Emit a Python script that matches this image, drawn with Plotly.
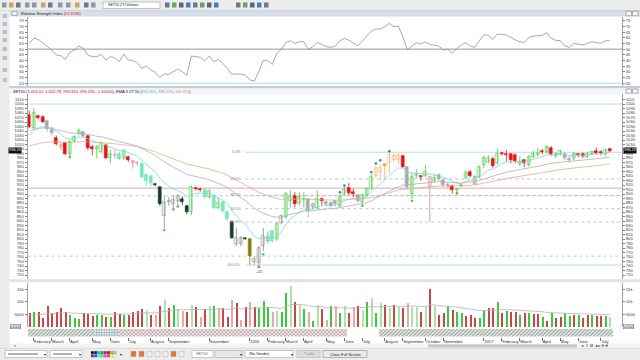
import pandas as pd
import plotly.graph_objects as go

# ---------------- data ----------------
first_week = "2015-01-26"

opens = [1076,1047,1073,1071,1063,1043,1025,1004,1013,989,
         1017,1033,1037,1029,1005,1000,993,1008,981,986,
         988,979,983,968,970,967,943,939,922,915,
         851,882,878,885,889,874,859,914,912,909,
         893,896,870,882,859,837,788,788,801,799,
         750,747,784,796,818,799,836,848,885,896,
         881,888,889,871,870,889,883,881,885,874,
         900,914,904,898,883,897,912,941,950,966,
         968,975,975,984,960,900,940,940,941,915,
         928,943,932,918,918,908,918,936,949,923,
         938,964,971,977,968,991,990,988,986,966,
         975,964,983,986,995,994,1003,985,990,990,
         976,979,988,990,983,990,996,993,988,1001.01]
highs = [1085,1091,1076,1075,1065,1050,1030,1015,1016,1020,
         1031,1046,1039,1031,1009,1009,1016,1009,998,998,
         994,1001,986,975,973,970,946,941,925,917,
         897,893,897,900,895,876,918,916,914,914,
         910,900,892,885,862,840,825,807,803,801,
         762,784,825,817,820,837,855,905,908,904,
         904,904,891,880,908,892,886,884,887,900,
         917,925,912,900,900,913,945,962,966,968,
         993,990,990,987,962,947,955,942,964,941,
         943,946,934,926,921,913,923,953,953,942,
         963,985,986,983,1001,994,998,991,990,984,
         977,986,996,1003,1000,1008,1006,994,998,994,
         984,993,991,992,993,996,1003,997,1001,1002.78]
lows = [1046,1044,1066,1058,1039,1030,1008,998,986,979,
        1014,1030,1025,998,986,979,990,977,968,979,
        975,975,971,956,962,935,918,915,917,874,
        825,874,867,874,875,855,853,908,905,889,
        890,866,866,858,840,800,784,784,798,743,
        743,739,773,790,792,796,832,845,870,870,
        874,870,848,866,866,875,872,870,872,870,
        896,898,893,880,872,893,910,935,930,934,
        945,970,965,958,910,889,935,930,938,837,
        925,930,915,914,901,898,915,934,937,920,
        935,958,968,958,965,985,972,968,968,962,
        960,961,980,984,989,990,985,980,986,975,
        970,975,982,980,980,987,988,986,984,993.31]
closes = [1050,1081,1070,1060,1044,1036,1011,1009,989,1016,
          1026,1040,1028,1003,1000,1005,1013,981,990,987,
          978,995,975,973,968,938,928,925,919,878,
          883,885,887,895,883,859,915,912,908,893,
          906,870,880,863,844,803,803,802,800,762,
          755,780,806,805,795,833,851,900,893,878,
          893,889,863,877,889,884,878,874,877,894,
          909,902,899,884,897,911,938,957,958,962,
          986,984,986,960,915,938,945,938,950,937,
          935,934,919,921,908,912,920,947,940,938,
          960,980,981,962,990,990,986,975,974,972,
          968,983,990,992,993,1005,988,988,995,979,
          978,990,986,985,990,993,991,991,997.29,996.19]
# candle colour state shown by the program
candle_state = list("RGRRSSRPRG" "GGSRRGGRGP" "TGRPPTTTKK" "WWWWKKGRRT"
                    "GTGTTKWWKO" "WWWGTGWGGR" "GGSWGRSSSG" "GRRSGGGBBY"
                    "BBBRSGGRGP" "GSSWRGGGRW" "GGGRGRRRRG" "RGGGRGRGGS"
                    "WGRRGGRRGR")

volumes = [5570,6250,6250,3830,8390,5570,6250,7590,6250,4640,
           3550,3300,5720,5320,4360,5040,4640,3950,3950,5850,
           5320,4900,5040,6250,6370,7460,6930,4640,5040,8670,
           10690,7590,9070,7330,6650,6250,8870,7990,4230,7330,
           8270,8670,7590,7590,4230,10690,9610,2900,7990,10000,
           7990,7730,10400,7990,5970,6650,5970,13790,16730,10000,
           9070,7060,6250,2620,9070,7060,2900,8270,8670,5720,
           8270,5720,7990,8670,6930,10000,11610,5570,9610,8870,
           7730,9070,8130,7730,9610,7990,7990,5970,7990,15400,
           8670,4900,5720,8270,6930,5970,5570,4360,4640,3550,
           3550,6370,7730,7730,10000,5570,6650,5970,5970,5040,
           5720,5720,5320,5320,4230,2620,5570,3550,4230,5570,
           4360,4640,4640,3700,5040,4900,4360,4360,4360,4230]
volume_state = list("rgrrrrrrrg" "ggrrrggrgr" "rgrrrrlrpr" "lrglprlrpr"
                    "lgprrprprp" "rgggplgglr" "lgpglrpgpg" "lrprlglglr"
                    "lrlrpllrlr" "lrrgrggrrr" "ggrrgrgrrg" "rgrrgrgrrg"
                    "grgrrgrrgl" "ggplp")[:130]

rsi = [55.1,59.5,58.6,55.7,52.2,49.2,44.8,44.2,41.0,47.2,
       49.2,52.7,50.7,44.8,43.4,43.4,45.4,40.4,43.4,42.5,
       39.0,45.7,40.4,39.9,38.1,33.1,35.2,31.7,29.6,25.2,
       28.1,27.8,30.2,32.5,30.2,27.0,44.0,43.4,42.8,39.9,
       44.0,39.0,41.0,37.5,33.1,28.1,28.1,28.1,27.3,22.9,
       22.0,30.2,40.4,39.9,36.6,46.3,49.8,55.7,57.4,55.1,
       56.5,56.5,49.8,52.2,56.0,54.2,52.2,51.6,52.7,57.1,
       59.5,58.0,55.7,53.0,57.1,61.5,65.9,67.7,67.7,69.7,
       72.7,69.7,70.3,60.9,49.2,52.7,55.7,54.5,56.3,54.2,
       53.6,52.7,49.2,49.8,46.3,50.7,53.6,55.7,52.7,51.6,
       57.4,62.4,62.4,58.6,63.3,63.0,62.4,60.4,58.0,56.5,
       55.7,60.4,61.5,61.8,62.1,64.5,59.5,57.7,57.4,53.0,
       51.6,55.1,54.5,53.6,55.1,56.5,55.7,55.1,57.4,57.4746]
rsi_last_text = "57.4746"
rsi_levels = [50, 20]

ema_periods = [9, 27, 50]
ema_first_values = [1031, 1041, 1007]      # values shown at the first bar
vol_ma_period = 20
vol_ma_first_value = 4600

month_ticks = ["2015-02-02","2015-03-02","2015-03-30","2015-05-04","2015-06-01","2015-06-29",
               "2015-08-03","2015-08-31","2015-11-02","2016-01-04","2016-02-01","2016-02-29",
               "2016-03-28","2016-05-02","2016-05-30","2016-06-27","2016-08-01","2016-08-29",
               "2016-10-03","2016-10-31","2017-01-02","2017-01-30","2017-02-27","2017-04-03",
               "2017-05-01","2017-05-29","2017-07-03"]
month_labels = ["February","March","April","May","June","July","August","September","November",
                "2016","February","March","April","May","June","July","August","September",
                "October","November","2017","February","March","April","May","June","July"]

price_ticks = list(range(720, 1111, 10))
rsi_ticks = list(range(20, 76, 5))
volume_ticks = [5000, 10000, 15000]

fib_high, fib_low, fib_start_bar = 992.7, 742.0, 48
fib_ratios = [0.0, 0.236, 0.382, 0.5, 0.618, 1.0]
fib_labels = ["0.0%", "23.6%", "38.2%", "50.0%", "61.8%", "100.0%"]
level_upper = 1100
level_red = 913
levels_dotted = [896, 762]

band_start = [0, 15, 20, 71, 78]
band_end = [14, 19, 70, 77, 129]
band_state = ["up", "side", "down", "none", "up"]

sig_low_bar = [9, 30, 32, 33, 52, 74, 85, 95]
sig_low_price = [982, 820, 866, 872, 766, 874, 885, 902]
sig_high_bar = [69, 70, 76, 77, 78, 80]
sig_high_price = [904, 919, 949, 968, 975, 995]
low_tag_bar, low_tag_price, low_tag_text = 51, 733, "+25"

# ---------------- helpers ----------------
W, H = 640, 360
def fx(x): return x / W
def fy(y): return 1 - y / H
WEEK_MS = 7 * 24 * 3600 * 1000

dates = pd.date_range(first_week, periods=len(closes), freq="W-MON")

def ema(values, period, first):
    a = 2.0 / (period + 1)
    out = [first]
    for v in values[1:]:
        out.append(a * v + (1 - a) * out[-1])
    return out

candle_colors = {
    "R": ("#e8141c", "#e8141c"), "G": ("#ffffff", "#44c844"), "T": ("#7ff0c8", "#6fe0b8"),
    "S": ("#a9b2b2", "#a0a8a8"), "K": ("#1d3a3a", "#1d3a3a"), "O": ("#8c7d12", "#8c7d12"),
    "B": ("#ffffff", "#f0b47a"), "Y": ("#f5a646", "#f5a646"), "W": ("#ffffff", "#8c8c8c"),
    "P": ("#ffffff", "#d88a8a"),
}
vol_colors = {"r": "#c84646", "g": "#3cc83c", "p": "#e6aaaa", "l": "#a8e6a8"}
# (pattern, line colour, background tint)
band_colors = {"up": ("/", "#6cc86c", "#eef8ee"), "side": ("+", "#30c0d8", "#e6f8fb"),
               "down": ("x", "#e06a6a", "#fbeaea"), "none": ("", "#ffffff", "#ffffff")}

# pixel geometry of the panels
X0, X1 = 27.5, 622.0
RSI_TOP, RSI_BOT = 16.5, 86.0
MAIN_TOP, MAIN_BOT = 94.0, 279.0
VOL_TOP, VOL_BOT = 282.5, 327.0
BAND_TOP, BAND_BOT = 328.5, 336.5
PPX = 0.45          # px per price point
P_REF, P_REF_Y = 1110, 99.5
price_range = [P_REF - (MAIN_BOT - P_REF_Y) / PPX, P_REF + (P_REF_Y - MAIN_TOP) / PPX]
RPX = (83.3 - 20.7) / 55
rsi_range = [20 - (RSI_BOT - 83.3) / RPX, 75 + (20.7 - RSI_TOP) / RPX]
VPX = 12.4 / 5000
vol_range = [-(VOL_BOT - 326.5) / VPX, (326.5 - VOL_TOP) / VPX]

xr0 = dates[0] - pd.Timedelta(days=2.8)
xr1 = dates[0] + pd.Timedelta(days=7 * 131.7)

fig = go.Figure()

# ---- RSI ----
fig.add_trace(go.Scatter(x=dates, y=rsi, mode="lines", line=dict(color="#a88896", width=0.8),
                         xaxis="x", yaxis="y", hoverinfo="skip"))
fig.add_trace(go.Scatter(x=[dates[0]], y=[rsi[0]], mode="markers", marker=dict(opacity=0),
                         xaxis="x", yaxis="y5", hoverinfo="skip"))

# ---- candles: wicks grouped by colour, bodies as bars ----
wick_groups = {}
for d, hi, lo, st in zip(dates, highs, lows, candle_state):
    col = candle_colors[st][1]
    g = wick_groups.setdefault(col, ([], []))
    g[0].extend([d, d, None]); g[1].extend([lo, hi, None])
for col, (xs, ys) in wick_groups.items():
    fig.add_trace(go.Scatter(x=xs, y=ys, mode="lines", line=dict(color=col, width=0.8),
                             xaxis="x", yaxis="y2", hoverinfo="skip"))
body_base = [min(o, c) for o, c in zip(opens, closes)]
body_h = [max(abs(c - o), 1.2) for o, c in zip(opens, closes)]
fig.add_trace(go.Bar(x=dates, y=body_h, base=body_base, width=0.62 * WEEK_MS,
                     marker=dict(color=[candle_colors[s][0] for s in candle_state],
                                 line=dict(color=[candle_colors[s][1] for s in candle_state], width=0.6)),
                     xaxis="x", yaxis="y2", hoverinfo="skip"))

ema_line_colors = ["#78d8dc", "#b0b0b0", "#dcb08c"]
ema_values = []
for per, first, col in zip(ema_periods, ema_first_values, ema_line_colors):
    e = ema(closes, per, first)
    ema_values.append(e)
    fig.add_trace(go.Scatter(x=dates, y=e, mode="lines", line=dict(color=col, width=0.8),
                             xaxis="x", yaxis="y2", hoverinfo="skip"))

fig.add_trace(go.Scatter(x=[dates[i] for i in sig_low_bar], y=sig_low_price, mode="markers",
                         marker=dict(color="#38d038", size=2.5), xaxis="x", yaxis="y2", hoverinfo="skip"))
fig.add_trace(go.Scatter(x=[dates[i] for i in sig_high_bar], y=sig_high_price, mode="markers",
                         marker=dict(color="#2f8a8a", size=2.5), xaxis="x", yaxis="y2", hoverinfo="skip"))
fig.add_trace(go.Scatter(x=[dates[low_tag_bar]], y=[low_tag_price + 5], mode="markers",
                         marker=dict(color="#8c7d12", size=3.5, symbol="triangle-up"),
                         xaxis="x", yaxis="y2", hoverinfo="skip"))
fig.add_trace(go.Scatter(x=[dates[0]], y=[closes[0]], mode="markers", marker=dict(opacity=0),
                         xaxis="x", yaxis="y6", hoverinfo="skip"))

# ---- volume ----
fig.add_trace(go.Bar(x=dates, y=volumes, width=0.3 * WEEK_MS,
                     marker=dict(color=[vol_colors[s] for s in volume_state], line=dict(width=0)),
                     xaxis="x", yaxis="y3", hoverinfo="skip"))
fig.add_trace(go.Scatter(x=dates, y=ema(volumes, vol_ma_period, vol_ma_first_value), mode="lines",
                         line=dict(color="#b4b4b4", width=0.8), xaxis="x", yaxis="y3", hoverinfo="skip"))
fig.add_trace(go.Scatter(x=[dates[0]], y=[volumes[0]], mode="markers", marker=dict(opacity=0),
                         xaxis="x", yaxis="y7", hoverinfo="skip"))

# ---- trend band ----
half = pd.Timedelta(days=3.5)
b_start = [dates[s] - half for s in band_start]
b_dur = [((dates[e] + half) - (dates[s] - half)).total_seconds() * 1000 for s, e in zip(band_start, band_end)]
fig.add_trace(go.Bar(y=[0] * len(band_state), x=b_dur, base=b_start, orientation="h", width=1,
                     marker=dict(color=[band_colors[s][2] for s in band_state], line=dict(width=0),
                                 pattern=dict(shape=[band_colors[s][0] for s in band_state],
                                              fgcolor=[band_colors[s][1] for s in band_state],
                                              fillmode="overlay", size=2.6, solidity=0.45)),
                     xaxis="x", yaxis="y4", hoverinfo="skip"))

# ---------------- layout ----------------
tickfont = dict(size=4.2, color="#404040")
ax_common = dict(showgrid=False, zeroline=False, ticks="outside", ticklen=2, tickwidth=0.6,
                 tickcolor="#808080", showline=True, linecolor="#a0a0a0", linewidth=0.8,
                 tickfont=tickfont, fixedrange=True, automargin=False)
shapes, ann = [], []

def rect(x0, y0, x1, y1, fill, line=None, lw=0.6):
    shapes.append(dict(type="rect", xref="paper", yref="paper", x0=fx(x0), x1=fx(x1), y0=fy(y1), y1=fy(y0),
                       fillcolor=fill, line=dict(color=line or fill, width=lw if line else 0), layer="below"))

def hline(x0, x1, y, color, lw=0.6, dash="solid"):
    shapes.append(dict(type="line", xref="paper", yref="paper", x0=fx(x0), x1=fx(x1), y0=fy(y), y1=fy(y),
                       line=dict(color=color, width=lw, dash=dash), layer="below"))

def text(x, y, s, size=4.2, color="#202020", xanchor="left", **kw):
    ann.append(dict(x=fx(x), y=fy(y), xref="paper", yref="paper", text=s, showarrow=False,
                    font=dict(size=size, color=color), xanchor=xanchor, yanchor="middle", **kw))

# chrome
rect(0, 0, 640, 10.5, "#ececec"); hline(0, 640, 10.5, "#b4b4b4")
for i, xi in enumerate([2, 9, 16, 25, 32, 41, 48, 58, 66, 75, 84, 91]):
    rect(xi, 2.5, xi + 4.5, 7.5, ["#8a96a4", "#c8a860", "#6a7888", "#8a98b0"][i % 4])
rect(103, 2, 160, 8.5, "#ffffff", "#a0a0a0"); text(106, 5.3, "SET50 ZTI Volume", size=3.6)
for i, xi in enumerate([165, 172, 179, 186, 193, 200, 207, 214, 236, 243, 250, 257, 264]):
    rect(xi, 2.5, xi + 4.5, 7.5, ["#6a7888", "#60a860", "#556677", "#4a78c8"][i % 4])
rect(0, 10.5, 9.5, 348.3, "#ececec")
for yi in [14, 22, 30, 38, 47, 56, 68, 78]:
    rect(2.5, yi, 7, yi + 4, "#b8c0cc")
rect(9.5, 10.5, 640, RSI_TOP, "#d6deea")
rect(12, 11.5, 17, 15.5, "#ffffff", "#808080")
rect(626, 11.2, 631.5, 15.8, "#f6f6f6", "#808080"); rect(632.5, 11.2, 638, 15.8, "#f6f6f6", "#808080")
rect(9.5, RSI_BOT, 640, 88.5, "#c3ccd8")
rect(9.5, 88.5, 640, MAIN_TOP, "#f3f5f8")
rect(626, 89, 631.5, 93.2, "#f6f6f6", "#808080"); rect(632.5, 89, 638, 93.2, "#f6f6f6", "#808080")
rect(9.5, MAIN_BOT + 0.3, 640, VOL_TOP - 0.3, "#e2e2e2")
rect(9.5, 343.5, 640, 348.3, "#f4f4f4"); rect(428, 344.3, 577, 347.6, "#c9c9c9")
text(12, 345.9, "&lt;", size=4)
text(580, 345.9, "▸  2  M  ◂ ▸ ⊖ ⊕", size=3.6, color="#303030")
rect(0, 348.3, 640, 360, "#ececec"); hline(0, 640, 348.3, "#c8c8c8")
rect(5, 350.5, 47, 357.5, "#ffffff", "#a8a8a8"); hline(8, 38, 354, "#202020", 0.7); text(42, 354, "▾", size=4)
rect(50, 350.5, 82, 357.5, "#ffffff", "#a8a8a8"); hline(53, 72, 354, "#202020", 0.7); text(77, 354, "▾", size=4)
pal = ["#000000", "#0000c0", "#00c0c0", "#00c000", "#c000c0", "#c00000", "#c0c000", "#c0c0c0",
       "#404040", "#4040ff", "#40ffff", "#40ff40", "#ff40ff", "#ff4040", "#ffff40", "#ffffff"]
for k, c in enumerate(pal):
    cx, cy = 91 + (k % 8) * 3.2, 351.2 + (k // 8) * 3.2
    rect(cx, cy, cx + 2.8, cy + 2.8, c, "#909090", 0.3)
text(118, 354, "▾", size=4)
for i, xi in enumerate([131, 139, 147, 155, 163, 171, 179]):
    rect(xi, 351.3, xi + 5, 356.5, ["#e07a30", "#e07a30", "#f0f0f0", "#f0f0f0", "#f0f0f0", "#e07a30", "#f0f0f0"][i], "#909090", 0.3)
rect(192, 350.5, 213, 357.5, "#ffffff", "#a8a8a8"); text(194, 354, "SET50", size=3.8, color="#606060")
rect(215, 350.5, 242, 357.5, "#e8e8e8", "#a8a8a8"); text(238, 354, "▾", size=4)
rect(245, 350.5, 293, 357.5, "#ffffff", "#a8a8a8"); text(247, 354, "(No Vendor)", size=3.8); text(289, 354, "▾", size=4)
rect(297, 350.5, 320, 357.5, "#dcdcdc", "#b8b8b8"); text(308.5, 354, "Trade", size=3.8, color="#909090", xanchor="center")
rect(323, 350.5, 367, 357.5, "#eaeaea", "#8c8c8c"); text(345, 354, "Close Full Screen", size=3.9, xanchor="center")

# panel titles
text(19, 13.4, "Relative Strength Index <span style='color:#d02020'>(" + rsi_last_text + ")</span>", size=4)
ev = [f"{e[-1]:.3f}" for e in ema_values]
chg = closes[-1] - closes[-2]
main_title = (f"SET50 <span style='color:#d02020'>({opens[-1]:,.2f}, {highs[-1]:,.2f}, {lows[-1]:.3f}, "
              f"{closes[-1]:.3f}, {chg:.5f})</span>, EMA-9 27 50 (<span style='color:#40c0c8'>{ev[0]}</span>, "
              f"<span style='color:#909090'>{ev[1]}</span>, <span style='color:#d8a070'>{ev[2]}</span>)")
text(11, 91.3, main_title, size=4)

# volume unit box
for xb in [9.5, 622.5]:
    ann.append(dict(x=fx(xb), y=fy(326.3), xref="paper", yref="paper", text="x1000", showarrow=False,
                    font=dict(size=3.6, color="#202020"), xanchor="left", yanchor="middle",
                    bgcolor="#ffffff", bordercolor="#606060", borderwidth=0.5, borderpad=0.2))

# last price boxes
for xp in [fx(8), fx(622.5)]:
    ann.append(dict(x=xp, y=closes[-1], xref="paper", yref="y2", text=f"{closes[-1]:.2f}", showarrow=False,
                    font=dict(size=3.8, color="#ffffff"), bgcolor="#101010", xanchor="left", yanchor="middle",
                    borderpad=0.3))

# horizontal level lines (price panel)
def pline(level, color, dash="solid", start=None, lw=0.8):
    shapes.append(dict(type="line", xref="x", yref="y2", x0=start if start is not None else xr0, x1=xr1,
                       y0=level, y1=level, line=dict(color=color, width=lw, dash=dash), layer="below"))

pline(level_upper, "#a8d8d0")
pline(level_red, "#d89090")
for lv in levels_dotted:
    pline(lv, "#b0b8b8", "dot")
fib_x0 = dates[fib_start_bar]
for r, lab in zip(fib_ratios, fib_labels):
    lv = fib_high - r * (fib_high - fib_low)
    solid = r in (0.0, 1.0)
    pline(lv, "#a8d8d0" if solid else "#b0b8b8", "solid" if solid else "dot", start=fib_x0)
    ann.append(dict(x=fib_x0, y=lv, xref="x", yref="y2", text=lab, showarrow=False, xanchor="right",
                    yanchor="middle", xshift=-2, font=dict(size=3.8, color="#808080")))
ann.append(dict(x=dates[low_tag_bar], y=low_tag_price - 6, xref="x", yref="y2", text=low_tag_text,
                showarrow=False, font=dict(size=3.8, color="#404040"), xanchor="center", yanchor="middle"))

# RSI reference lines
for lv, col in zip(rsi_levels, ["#7a7a7a", "#a0d4cc"]):
    shapes.append(dict(type="line", xref="x domain", yref="y", x0=0, x1=1, y0=lv, y1=lv,
                       line=dict(color=col, width=0.8), layer="below"))

xd = [fx(X0), fx(X1)]
fig.update_layout(
    width=W, height=H, margin=dict(l=0, r=0, t=0, b=0, autoexpand=False), autosize=False,
    paper_bgcolor="#ffffff", plot_bgcolor="#ffffff", showlegend=False, barmode="overlay",
    bargap=0, font=dict(family="Liberation Sans, Arial, sans-serif", size=4.2, color="#202020"),
    xaxis=dict(domain=xd, anchor="y4", type="date", range=[xr0, xr1], tickvals=month_ticks,
               ticktext=month_labels, ticks="outside", ticklen=3, tickwidth=0.6, tickcolor="#707070",
               tickangle=0, ticklabelposition="outside right", tickfont=dict(size=4.2, color="#303030"),
               showgrid=False, zeroline=False, showline=False, fixedrange=True, automargin=False),
    yaxis=dict(domain=[fy(RSI_BOT), fy(RSI_TOP)], range=rsi_range, tickvals=rsi_ticks, anchor="x",
               side="left", **ax_common),
    yaxis5=dict(overlaying="y", range=rsi_range, tickvals=rsi_ticks, anchor="x", side="right", **ax_common),
    yaxis2=dict(domain=[fy(MAIN_BOT), fy(MAIN_TOP)], range=price_range, tickvals=price_ticks, anchor="x",
                side="left", **ax_common),
    yaxis6=dict(overlaying="y2", range=price_range, tickvals=price_ticks, anchor="x", side="right", **ax_common),
    yaxis3=dict(domain=[fy(VOL_BOT), fy(VOL_TOP)], range=vol_range, tickvals=volume_ticks, anchor="x",
                side="left", **ax_common),
    yaxis7=dict(overlaying="y3", range=vol_range, tickvals=volume_ticks, anchor="x", side="right", **ax_common),
    yaxis4=dict(domain=[fy(BAND_BOT), fy(BAND_TOP)], range=[-0.5, 0.5], visible=False, fixedrange=True),
    shapes=shapes, annotations=ann,
)
fig.write_html("out.html", config={"displayModeBar": False},
               post_script="document.body.style.margin='0';document.body.style.overflow='hidden';")
